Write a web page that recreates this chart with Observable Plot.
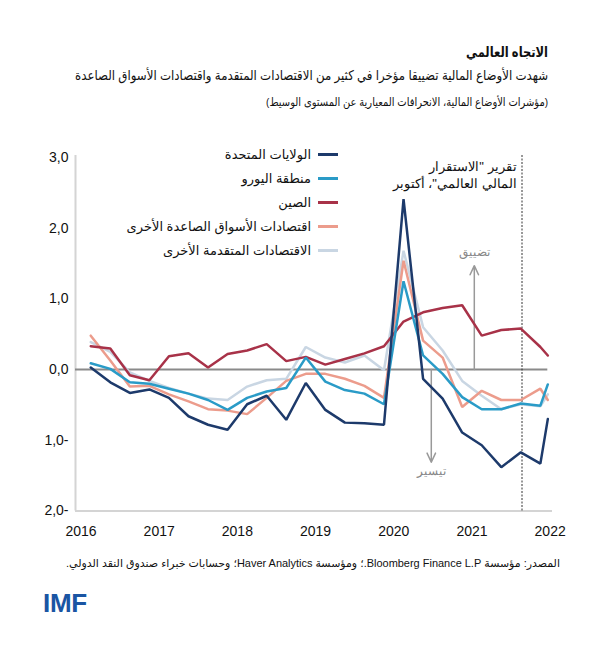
<!DOCTYPE html>
<html>
<head>
<meta charset="utf-8">
<script src="https://cdn.jsdelivr.net/npm/d3@7"></script>
<script src="https://cdn.jsdelivr.net/npm/@observablehq/plot@0.6"></script>
<style>
  body { margin: 0; background: #fff; }
  #wrap { position: relative; width: 600px; height: 654px; font-family: "Liberation Sans", Arial, "DejaVu Sans", sans-serif; color: #111; overflow: hidden; }
  #wrap svg { position: absolute; left: 0; top: 0; }
  .rt { position: absolute; direction: rtl; text-align: right; white-space: nowrap; transform-origin: right center; }
  #legend { position: absolute; left: 0; top: 142px; width: 338px; }
  .row { height: 24px; display: flex; justify-content: flex-end; align-items: center; font-size: 13px; }
  .sw { width: 20px; height: 3px; margin-left: 7px; }
</style>
</head>
<body>
<div id="wrap">
  <div class="rt" id="title" style="right:52px; top:42px; font-size:14px; font-weight:bold; line-height:20px;">الاتجاه العالمي</div>
  <div class="rt" id="subtitle" style="right:52px; top:66px; font-size:13.5px; line-height:20px;">شهدت الأوضاع المالية تضييقا مؤخرا في كثير من الاقتصادات المتقدمة واقتصادات الأسواق الصاعدة</div>
  <div class="rt" id="note" style="right:52px; top:93px; font-size:11.5px; line-height:18px;">(مؤشرات الأوضاع المالية، الانحرافات المعيارية عن المستوى الوسيط)</div>
  <div class="rt" id="source" style="right:40px; top:555px; font-size:11px; line-height:16px;">المصدر: مؤسسة Bloomberg Finance L.P.؛ ومؤسسة Haver Analytics؛ وحسابات خبراء صندوق النقد الدولي.</div>
  <div style="position:absolute; left:43px; top:588px; font-size:26px; font-weight:bold; color:#1a55a3; font-family:'Liberation Sans', Arial, sans-serif; letter-spacing:-0.3px;">IMF</div>
  <div id="legend"></div>
</div>
<script>
// ---- data ----
const periods = [2016.125, 2016.375, 2016.625, 2016.875,
                 2017.125, 2017.375, 2017.625, 2017.875,
                 2018.125, 2018.375, 2018.625, 2018.875,
                 2019.125, 2019.375, 2019.625, 2019.875,
                 2020.125, 2020.375, 2020.625, 2020.875,
                 2021.125, 2021.375, 2021.625, 2021.875, 2021.97];

const seriesNames = ["الولايات المتحدة", "منطقة اليورو", "الصين", "اقتصادات الأسواق الصاعدة الأخرى", "الاقتصادات المتقدمة الأخرى"];
const seriesColors = ["#1d3a6b", "#2a9bc7", "#a83248", "#ec9c8c", "#c9d6e3"];

const usValues    = [0.03,-0.18,-0.33,-0.28,-0.40,-0.66,-0.78,-0.85,-0.49,-0.37,-0.71,-0.19,-0.57,-0.75,-0.76,-0.78,2.41,-0.13,-0.41,-0.89,-1.07,-1.38,-1.17,-1.33,-0.70];
const euroValues  = [0.09,0.01,-0.18,-0.20,-0.27,-0.34,-0.43,-0.57,-0.40,-0.31,-0.26,0.17,-0.17,-0.29,-0.34,-0.49,1.25,0.20,-0.06,-0.39,-0.56,-0.56,-0.48,-0.51,-0.21];
const chinaValues = [0.33,0.30,-0.08,-0.15,0.19,0.23,0.03,0.22,0.27,0.36,0.12,0.18,0.07,0.15,0.23,0.33,0.68,0.81,0.87,0.91,0.48,0.56,0.58,0.32,0.20];
const otherEMValues = [0.48,0.13,-0.24,-0.23,-0.35,-0.45,-0.56,-0.58,-0.63,-0.40,-0.16,-0.06,-0.06,-0.13,-0.23,-0.40,1.54,0.41,0.17,-0.53,-0.30,-0.43,-0.43,-0.27,-0.43];
const otherAEValues = [0.39,0.25,-0.04,-0.16,-0.26,-0.34,-0.41,-0.43,-0.24,-0.15,-0.13,0.32,0.17,0.10,0.20,-0.01,1.68,0.60,0.27,-0.16,-0.37,-0.56,-0.49,-0.52,-0.35];

const xTicks = [2016, 2017, 2018, 2019, 2020, 2021, 2022];
const yTicks = [3, 2, 1, 0, -1, -2];
const yTickLabels = ["3,0", "2,0", "1,0", "0,0", "1,0-", "2,0-"];

const gfsrDate = 2021.64;
const gfsrLabel = "تقرير \"الاستقرار\nالمالي العالمي\"، أكتوبر";
const tightenLabel = "تضييق";
const easeLabel = "تيسير";

// ---- build table ----
const allValues = [usValues, euroValues, chinaValues, otherEMValues, otherAEValues];
const rows = [];
allValues.forEach((vals, i) => vals.forEach((v, j) => rows.push({t: periods[j], v, s: seriesNames[i]})));
const drawOrder = [4, 3, 2, 1, 0];

const xDomain = [2015.93, 2022.03];
const fontNum = "'Liberation Sans', Arial, sans-serif";

const chart = Plot.plot({
  width: 600,
  height: 654,
  marginTop: 157,
  marginBottom: 143.5,
  marginLeft: 75,
  marginRight: 48,
  style: {fontFamily: fontNum, fontSize: "14px", color: "#111", background: "transparent"},
  x: {domain: xDomain, ticks: xTicks, tickFormat: d => String(d), tickSize: 0, tickPadding: 15, label: null},
  y: {domain: [-2, 3], ticks: yTicks, tickFormat: d => yTickLabels[yTicks.indexOf(d)], tickSize: 0, tickPadding: 7, label: null},
  color: {domain: seriesNames, range: seriesColors},
  marks: [
    Plot.ruleX([xDomain[0]], {y1: -2, y2: 3.03, stroke: "#d4d4d4", strokeWidth: 2}),
    Plot.ruleY([-2], {x1: xDomain[0], x2: xDomain[1], stroke: "#d4d4d4", strokeWidth: 2}),
    Plot.ruleY([0], {x1: xDomain[0], x2: 2021.97, stroke: "#8a8a8a", strokeWidth: 2}),
    Plot.ruleX([gfsrDate], {y1: -2, y2: 3.03, stroke: "#333", strokeWidth: 1, strokeDasharray: "2,1.5"}),
    Plot.arrow([{x: 2021.03}], {x1: "x", x2: "x", y1: 0, y2: 1.47, stroke: "#999", strokeWidth: 1.5, headLength: 10, headAngle: 50}),
    Plot.arrow([{x: 2020.48}], {x1: "x", x2: "x", y1: 0, y2: -1.31, stroke: "#999", strokeWidth: 1.5, headLength: 10, headAngle: 50}),
    Plot.text([tightenLabel], {x: 2021.03, y: 1.66, text: d => d, fill: "#888", fontSize: 12}),
    Plot.text([easeLabel], {x: 2020.48, y: -1.44, text: d => d, fill: "#888", fontSize: 12}),
    Plot.text([gfsrLabel], {x: 2021.57, y: 2.77, text: d => d, textAnchor: "end", fontSize: 13, fill: "#111", lineHeight: 1.35}),
    ...drawOrder.map(i => Plot.line(rows.filter(r => r.s === seriesNames[i]), {x: "t", y: "v", stroke: seriesColors[i], strokeWidth: 2.5, strokeLinejoin: "miter"}))
  ]
});
document.getElementById("wrap").prepend(chart);

// ---- legend ----
const legend = document.getElementById("legend");
seriesNames.forEach((name, i) => {
  const row = document.createElement("div");
  row.className = "row";
  row.innerHTML = `<span dir="rtl">${name}</span><span class="sw" style="background:${seriesColors[i]}"></span>`;
  legend.appendChild(row);
});

// ---- fit header texts to the reference widths ----
function fitX(id, target) {
  const el = document.getElementById(id);
  const w = el.getBoundingClientRect().width;
  if (w > target) el.style.transform = `scaleX(${target / w})`;
}
fitX("title", 82);
fitX("subtitle", 473);
fitX("note", 282);
fitX("source", 494);
</script>
</body>
</html>
